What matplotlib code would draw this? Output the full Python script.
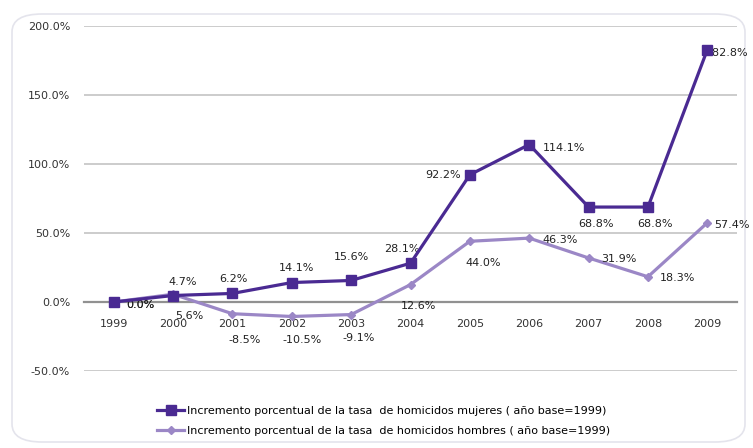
import matplotlib
matplotlib.use("Agg")
import matplotlib.pyplot as plt
from matplotlib.patches import FancyBboxPatch

# data
years = ["1999", "2000", "2001", "2002", "2003", "2004", "2005", "2006", "2007", "2008", "2009"]
mujeres = [0.0, 4.7, 6.2, 14.1, 15.6, 28.1, 92.2, 114.1, 68.8, 68.8, 182.8]
hombres = [0.0, 5.6, -8.5, -10.5, -9.1, 12.6, 44.0, 46.3, 31.9, 18.3, 57.4]
lbl_mujeres = "Incremento porcentual de la tasa  de homicidos mujeres ( año base=1999)"
lbl_hombres = "Incremento porcentual de la tasa  de homicidos hombres ( año base=1999)"

# label offsets in pixels (dx, dy)
off_m = [(27, -3), (10, 14), (1, 14), (5, 15), (0, 23), (-9, 14),
         (-27, 0), (35, -3), (7, -17), (7, -17), (20, -3)]
off_h = [(27, -3), (16, -22), (12, -26), (10, -24), (8, -23), (8, -21),
         (13, -22), (31, -2), (30, -1), (30, -1), (25, -2)]

c_m = "#4a2a92"
c_h = "#9b87c6"
plt.rcParams["font.family"] = ["DejaVu Sans"]

W, H = 753, 448
fig = plt.figure(figsize=(W / 100, H / 100), dpi=100)

# rounded frame of the chart area
fig.patches.append(FancyBboxPatch((12 / W, 6 / H), 733 / W, 428 / H,
                                  boxstyle="round,pad=0,rounding_size=0.04",
                                  transform=fig.transFigure, fc="white",
                                  ec="#e4e4ec", lw=1.2, zorder=-5))

ax = fig.add_axes([84 / W, 1 - 371 / H, (737 - 84) / W, (371 - 26) / H])
ax.patch.set_alpha(0)
ax.set_zorder(2)
x = list(range(len(years)))

ax.plot(x, mujeres, color=c_m, lw=2.3, marker="s", ms=6.5, zorder=4, label=lbl_mujeres)
ax.plot(x, hombres, color=c_h, lw=2.3, marker="D", ms=4.5, zorder=3, label=lbl_hombres)

for i in x:
    ax.annotate(f"{mujeres[i]:.1f}%", (i, mujeres[i]), xytext=off_m[i],
                textcoords="offset pixels", ha="center", va="center",
                fontsize=8, color="#222222", annotation_clip=False)
    ax.annotate(f"{hombres[i]:.1f}%", (i, hombres[i]), xytext=off_h[i],
                textcoords="offset pixels", ha="center", va="center",
                fontsize=8, color="#222222", annotation_clip=False)

ax.set_xlim(-0.5, 10.5)
ax.set_ylim(-50, 200)
ax.set_yticks([-50, 0, 50, 100, 150, 200])
ax.set_yticklabels([f"{v:.1f}%" for v in [-50, 0, 50, 100, 150, 200]])
ax.set_xticks(x)
ax.set_xticklabels(years)
ax.tick_params(axis="both", length=0, labelsize=8, colors="#333333")
ax.tick_params(axis="y", pad=10)
ax.tick_params(axis="x", pad=12)

ax.yaxis.grid(True, color="#c4c4c4", lw=1.2)
ax.set_axisbelow(True)
for s in ["top", "right", "left"]:
    ax.spines[s].set_visible(False)
ax.spines["bottom"].set_position(("data", 0))
ax.spines["bottom"].set_color("#919191")
ax.spines["bottom"].set_linewidth(1.6)

fig.legend(loc="center", bbox_to_anchor=(384 / W, 1 - 421 / H), frameon=False,
           fontsize=8, handlelength=2.4, handletextpad=0.3, labelspacing=0.9)

fig.savefig("out.png", dpi=100)
